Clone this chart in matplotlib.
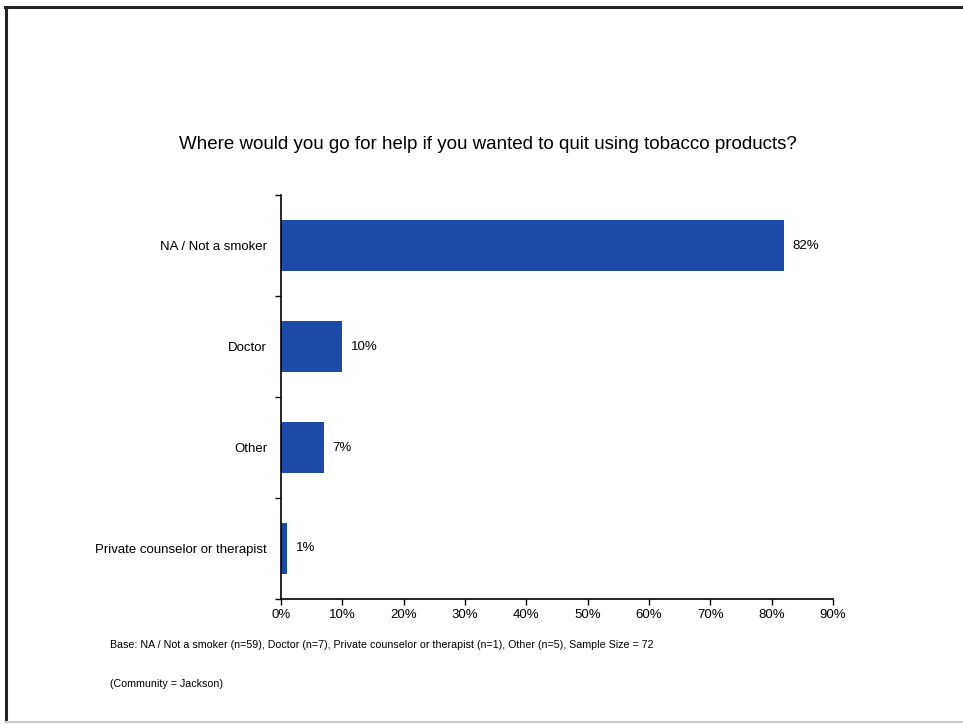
import matplotlib.pyplot as plt
from matplotlib.lines import Line2D

categories = ['NA / Not a smoker', 'Doctor', 'Other', 'Private counselor or therapist']
values = [82, 10, 7, 1]
x_ticks = [0, 10, 20, 30, 40, 50, 60, 70, 80, 90]

plt.rcParams['font.family'] = ['Liberation Sans', 'DejaVu Sans']

fig = plt.figure(figsize=(9.63, 7.25), dpi=100)
ax = fig.add_axes([0.2918, 0.1738, 0.865 - 0.2918, 0.731 - 0.1738])

# bars, top category first
pos = list(range(len(categories)))[::-1]
ax.barh(pos, values, height=0.5, color='#1c4aa8')
for p, v in zip(pos, values):
    ax.annotate(f'{v}%', (v, p), xytext=(6, 0), textcoords='offset points',
                va='center', ha='left', fontsize=9.5)

ax.set_xlim(0, 90)
ax.set_ylim(-0.5, len(categories) - 0.5)
ax.set_xticks(x_ticks)
ax.set_xticklabels([f'{t}%' for t in x_ticks], fontsize=9.5)
ax.set_yticks(pos)
ax.set_yticklabels(categories, fontsize=9.5)
ax.tick_params(axis='y', length=0, pad=10)
ax.tick_params(axis='x', length=4, width=1, pad=3)
# small ticks between categories
ax.set_yticks([-0.5, 0.5, 1.5, 2.5, 3.5], minor=True)
ax.tick_params(axis='y', which='minor', length=4, width=1)

for s in ['top', 'right']:
    ax.spines[s].set_visible(False)
ax.spines['left'].set_linewidth(1.2)
ax.spines['bottom'].set_linewidth(1.2)

fig.text(0.507, 0.801, 'Where would you go for help if you wanted to quit using tobacco products?',
         ha='center', va='center', fontsize=13.5)
fig.text(0.114, 0.110, 'Base: NA / Not a smoker (n=59), Doctor (n=7), Private counselor or therapist (n=1), Other (n=5), Sample Size = 72',
         ha='left', va='center', fontsize=7.7)
fig.text(0.114, 0.057, '(Community = Jackson)', ha='left', va='center', fontsize=7.7)

# page frame
fig.add_artist(Line2D([0.005, 1.0], [0.990, 0.990], color='#222222', lw=2.2, transform=fig.transFigure))
fig.add_artist(Line2D([0.006, 0.006], [0.006, 0.990], color='#222222', lw=2.2, transform=fig.transFigure))
fig.add_artist(Line2D([0.005, 1.0], [0.004, 0.004], color='#cccccc', lw=1.5, transform=fig.transFigure))

fig.savefig('out.png', dpi=100)
